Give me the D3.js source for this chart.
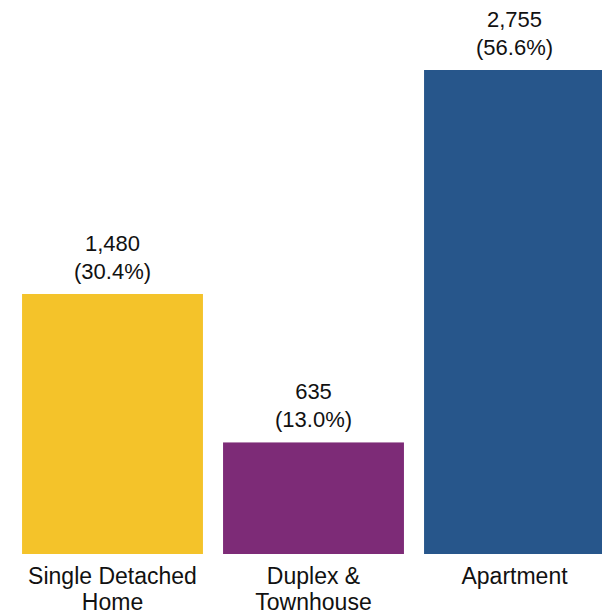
<!DOCTYPE html>
<html>
<head>
<meta charset="utf-8">
<script src="https://cdn.jsdelivr.net/npm/d3@7"></script>
<style>
  html, body { margin: 0; padding: 0; background: #fff; }
  svg { display: block; }
  text { font-family: "Helvetica Neue", Helvetica, Arial, "Liberation Sans", sans-serif; fill: #111; }
</style>
</head>
<body>
<svg id="chart" width="602" height="616"></svg>
<script>
// Dwelling types and counts
const categories = [["Single Detached", "Home"], ["Duplex &", "Townhouse"], ["Apartment"]];
const values = [1480, 635, 2755];
const shares = ["30.4%", "13.0%", "56.6%"];
const colors = ["#F4C32A", "#7D2B77", "#27568B"];

const svg = d3.select("#chart");
const baseY = 554, topY = 70;

const x = d3.scaleBand()
  .domain(d3.range(values.length))
  .range([12, 615])
  .paddingInner(0.1)
  .paddingOuter(0.05);

const y = d3.scaleLinear()
  .domain([0, d3.max(values)])
  .range([baseY, topY]);

const fmt = d3.format(",");

svg.selectAll("rect.bar")
  .data(values)
  .join("rect")
  .attr("class", "bar")
  .attr("x", (d, i) => x(i))
  .attr("y", d => y(d))
  .attr("width", x.bandwidth())
  .attr("height", d => baseY - y(d))
  .attr("fill", (d, i) => colors[i]);

// Value and share labels above each bar
const lab = svg.selectAll("g.val")
  .data(values)
  .join("g")
  .attr("class", "val")
  .attr("transform", (d, i) => `translate(${x(i) + x.bandwidth() / 2},${y(d)})`);

lab.append("text")
  .attr("text-anchor", "middle")
  .attr("y", -43)
  .style("font-size", "22px")
  .text(d => fmt(d));

lab.append("text")
  .attr("text-anchor", "middle")
  .attr("y", -15)
  .style("font-size", "22px")
  .text((d, i) => `(${shares[i]})`);

// Category labels under the bars
const cat = svg.selectAll("text.cat")
  .data(categories)
  .join("text")
  .attr("class", "cat")
  .attr("text-anchor", "middle")
  .attr("transform", (d, i) => `translate(${x(i) + x.bandwidth() / 2},584)`)
  .style("font-size", "23px");

cat.selectAll("tspan")
  .data(d => d)
  .join("tspan")
  .attr("x", 0)
  .attr("dy", (d, j) => j === 0 ? 0 : 26)
  .text(d => d);
</script>
</body>
</html>
